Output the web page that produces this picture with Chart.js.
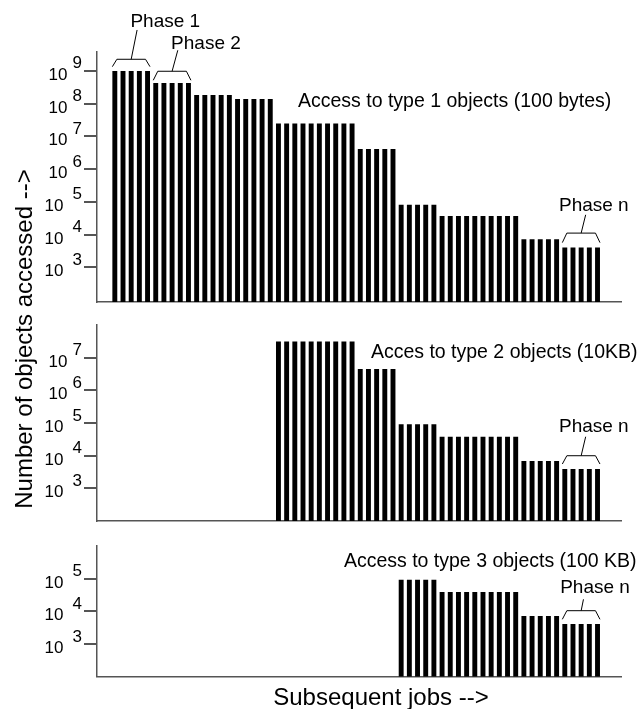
<!DOCTYPE html>
<html><head><meta charset="utf-8">
<script src="https://cdn.jsdelivr.net/npm/chart.js@4.4.0/dist/chart.umd.min.js"></script>
<style>
html,body{margin:0;padding:0;background:#fff;}
body{width:637px;height:709px;position:relative;overflow:hidden;font-family:"Liberation Sans",Arial,Helvetica,sans-serif;}
canvas{position:absolute;left:0;}
.title{position:absolute;font-size:24px;line-height:24px;white-space:nowrap;text-align:center;color:#000;width:400px;}
</style></head><body>
<canvas id="c1" width="637" height="320" style="top:0px"></canvas>
<canvas id="c2" width="637" height="210" style="top:320px"></canvas>
<canvas id="c3" width="637" height="179" style="top:530px"></canvas>
<div class="title" style="left:11.7px;top:538.5px;transform-origin:0 0;transform:rotate(-90deg)">Number of objects accessed --&gt;</div>
<div class="title" style="left:181px;top:684.7px">Subsequent jobs --&gt;</div>
<script>
// ---- data (one value per job, null = no access) ----
const jobs = Array.from({length: 60}, (_, i) => i);
const type1 = [
  1e9,1e9,1e9,1e9,1e9,
  4.3e8,4.3e8,4.3e8,4.3e8,4.3e8,
  1.85e8,1.85e8,1.85e8,1.85e8,1.85e8,
  1.4e8,1.4e8,1.4e8,1.4e8,1.4e8,
  2.5e7,2.5e7,2.5e7,2.5e7,2.5e7,2.5e7,2.5e7,2.5e7,2.5e7,2.5e7,
  4.1e6,4.1e6,4.1e6,4.1e6,4.1e6,
  8.2e4,8.2e4,8.2e4,8.2e4,8.2e4,
  3.7e4,3.7e4,3.7e4,3.7e4,3.7e4,3.7e4,3.7e4,3.7e4,3.7e4,3.7e4,
  7.2e3,7.2e3,7.2e3,7.2e3,7.2e3,
  4.0e3,4.0e3,4.0e3,4.0e3,4.0e3
];
const type2 = [
  null,null,null,null,null,null,null,null,null,null,
  null,null,null,null,null,null,null,null,null,null,
  3.1e7,3.1e7,3.1e7,3.1e7,3.1e7,3.1e7,3.1e7,3.1e7,3.1e7,3.1e7,
  4.5e6,4.5e6,4.5e6,4.5e6,4.5e6,
  9.1e4,9.1e4,9.1e4,9.1e4,9.1e4,
  3.8e4,3.8e4,3.8e4,3.8e4,3.8e4,3.8e4,3.8e4,3.8e4,3.8e4,3.8e4,
  6.9e3,6.9e3,6.9e3,6.9e3,6.9e3,
  3.9e3,3.9e3,3.9e3,3.9e3,3.9e3
];
const type3 = [
  null,null,null,null,null,null,null,null,null,null,
  null,null,null,null,null,null,null,null,null,null,
  null,null,null,null,null,null,null,null,null,null,
  null,null,null,null,null,
  9.3e4,9.3e4,9.3e4,9.3e4,9.3e4,
  3.9e4,3.9e4,3.9e4,3.9e4,3.9e4,3.9e4,3.9e4,3.9e4,3.9e4,3.9e4,
  7.2e3,7.2e3,7.2e3,7.2e3,7.2e3,
  4.1e3,4.1e3,4.1e3,4.1e3,4.1e3
];
const ticks1 = [1e3,1e4,1e5,1e6,1e7,1e8,1e9];
const ticks2 = [1e3,1e4,1e5,1e6,1e7];
const ticks3 = [1e3,1e4,1e5];

const FONT = '"Liberation Sans", Arial, Helvetica, sans-serif';
const AXIS = '#555';

const decor = {
  id: 'decor',
  afterDraw(chart, args, opts) {
    const ctx = chart.ctx, xs = chart.scales.x, ys = chart.scales.y;
    const vals = opts.values;
    const tv = opts.tickList;
    ctx.save();
    const left = chart.chartArea.left;
    // tick marks
    ctx.fillStyle = AXIS;
    tv.forEach(v => {
      const py = ys.getPixelForValue(v);
      ctx.fillRect(left - 12.5, Math.round(py) - 1, 12.5, 2);
    });
    ctx.fillStyle = '#000';
    // tick labels 10^n
    ctx.font = '17px ' + FONT;
    ctx.textBaseline = 'alphabetic';
    tv.forEach(v => {
      const py = ys.getPixelForValue(v);
      const e = Math.round(Math.log10(v));
      ctx.textAlign = 'right';
      ctx.fillText('10', left - (e >= 6 ? 29 : 33), py + 9);
      ctx.textAlign = 'left';
      ctx.fillText(String(e), left - 24, py - 2.5);
    });
    // panel labels
    ctx.font = '19.5px ' + FONT;
    ctx.textAlign = 'left';
    (opts.labels || []).forEach(l => {
      ctx.fillText(l.text, xs.getPixelForValue(l.x), ys.getPixelForValue(l.y));
    });
    // phase brackets
    ctx.font = '19px ' + FONT;
    const meta = chart.getDatasetMeta(0);
    const bw = meta.data.length ? meta.data[0].width : 5;
    ctx.strokeStyle = '#000';
    ctx.lineWidth = 1;
    (opts.brackets || []).forEach(b => {
      const l = xs.getPixelForValue(b.first) - bw / 2;
      const r = xs.getPixelForValue(b.last) + bw / 2;
      const top = ys.getPixelForValue(vals[b.first]);
      const ey = top - b.endGap, hy = top - b.hGap;
      const cx = (l + r) / 2;
      ctx.beginPath();
      ctx.moveTo(l, ey); ctx.lineTo(l + 4.5, hy); ctx.lineTo(r - 4.5, hy); ctx.lineTo(r, ey);
      ctx.moveTo(cx, hy); ctx.lineTo(cx + b.lean, hy - b.rise);
      ctx.stroke();
      ctx.fillText(b.text, cx + b.lean + b.textDx, hy - b.rise + b.textDy);
    });
    ctx.restore();
  }
};

function makeChart(id, values, yMin, yMax, tickVals, pad, labels, brackets) {
  const pts = values.map((v, i) => ({x: jobs[i], y: v})).filter(p => p.y !== null);
  return new Chart(document.getElementById(id), {
    type: 'bar',
    data: { datasets: [{ data: pts, backgroundColor: '#000', borderWidth: 0,
      barPercentage: 1, categoryPercentage: 0.6 }] },
    options: {
      responsive: false, animation: false, devicePixelRatio: 1, events: [],
      layout: { padding: pad },
      plugins: { legend: {display: false}, tooltip: {enabled: false},
        decor: { values, labels, brackets, tickList: tickVals } },
      scales: {
        x: { type: 'linear', min: -2.24, max: 61.87, offset: false,
          ticks: {display: false}, grid: {display: false},
          border: {display: true, color: AXIS, width: 1.5},
          afterFit: s => { s.height = 0; } },
        y: { type: 'logarithmic', min: yMin, max: yMax,
          ticks: {display: false},
          grid: {display: false},
          border: {display: true, color: AXIS, width: 1.5},
          afterBuildTicks: s => { s.ticks = tickVals.map(v => ({value: v})); },
          afterFit: s => { s.width = 96.5; } }
      }
    },
    plugins: [decor]
  });
}

makeChart('c1', type1, 87, 3.8e9, ticks1, {top: 52, bottom: 18, left: 0, right: 16},
  [{text: 'Access to type 1 objects (100 bytes)', x: 22.39, y: Math.pow(10, 7.9)}],
  [{text: 'Phase 1', first: 0, last: 4, endGap: 4.3, hGap: 11.7, lean: 5.9, rise: 29.3, textDx: -6.7, textDy: -3.3},
   {text: 'Phase 2', first: 5, last: 9, endGap: 2.7, hGap: 11.7, lean: 5.7, rise: 21, textDx: -6.7, textDy: -1.7},
   {text: 'Phase n', first: 55, last: 59, endGap: 5, hGap: 14.5, lean: 4.5, rise: 18.3, textDx: -26.7, textDy: -3.3}]);

makeChart('c2', type2, 100, 1e8, ticks2, {top: 5, bottom: 9, left: 0, right: 16},
  [{text: 'Acces to type 2 objects (10KB)', x: 31.3, y: 1e7}],
  [{text: 'Phase n', first: 55, last: 59, endGap: 5, hGap: 13.3, lean: 4.5, rise: 19, textDx: -26.7, textDy: -5}]);

makeChart('c3', type3, 100, 1e6, ticks3, {top: 16, bottom: 32.3, left: 0, right: 16},
  [{text: 'Access to type 3 objects (100 KB)', x: 28.0, y: Math.pow(10, 5.36)}],
  [{text: 'Phase n', first: 55, last: 59, endGap: 4.7, hGap: 13.3, lean: 2.3, rise: 11.4, textDx: -23.3, textDy: -6}]);
</script>
</body></html>
